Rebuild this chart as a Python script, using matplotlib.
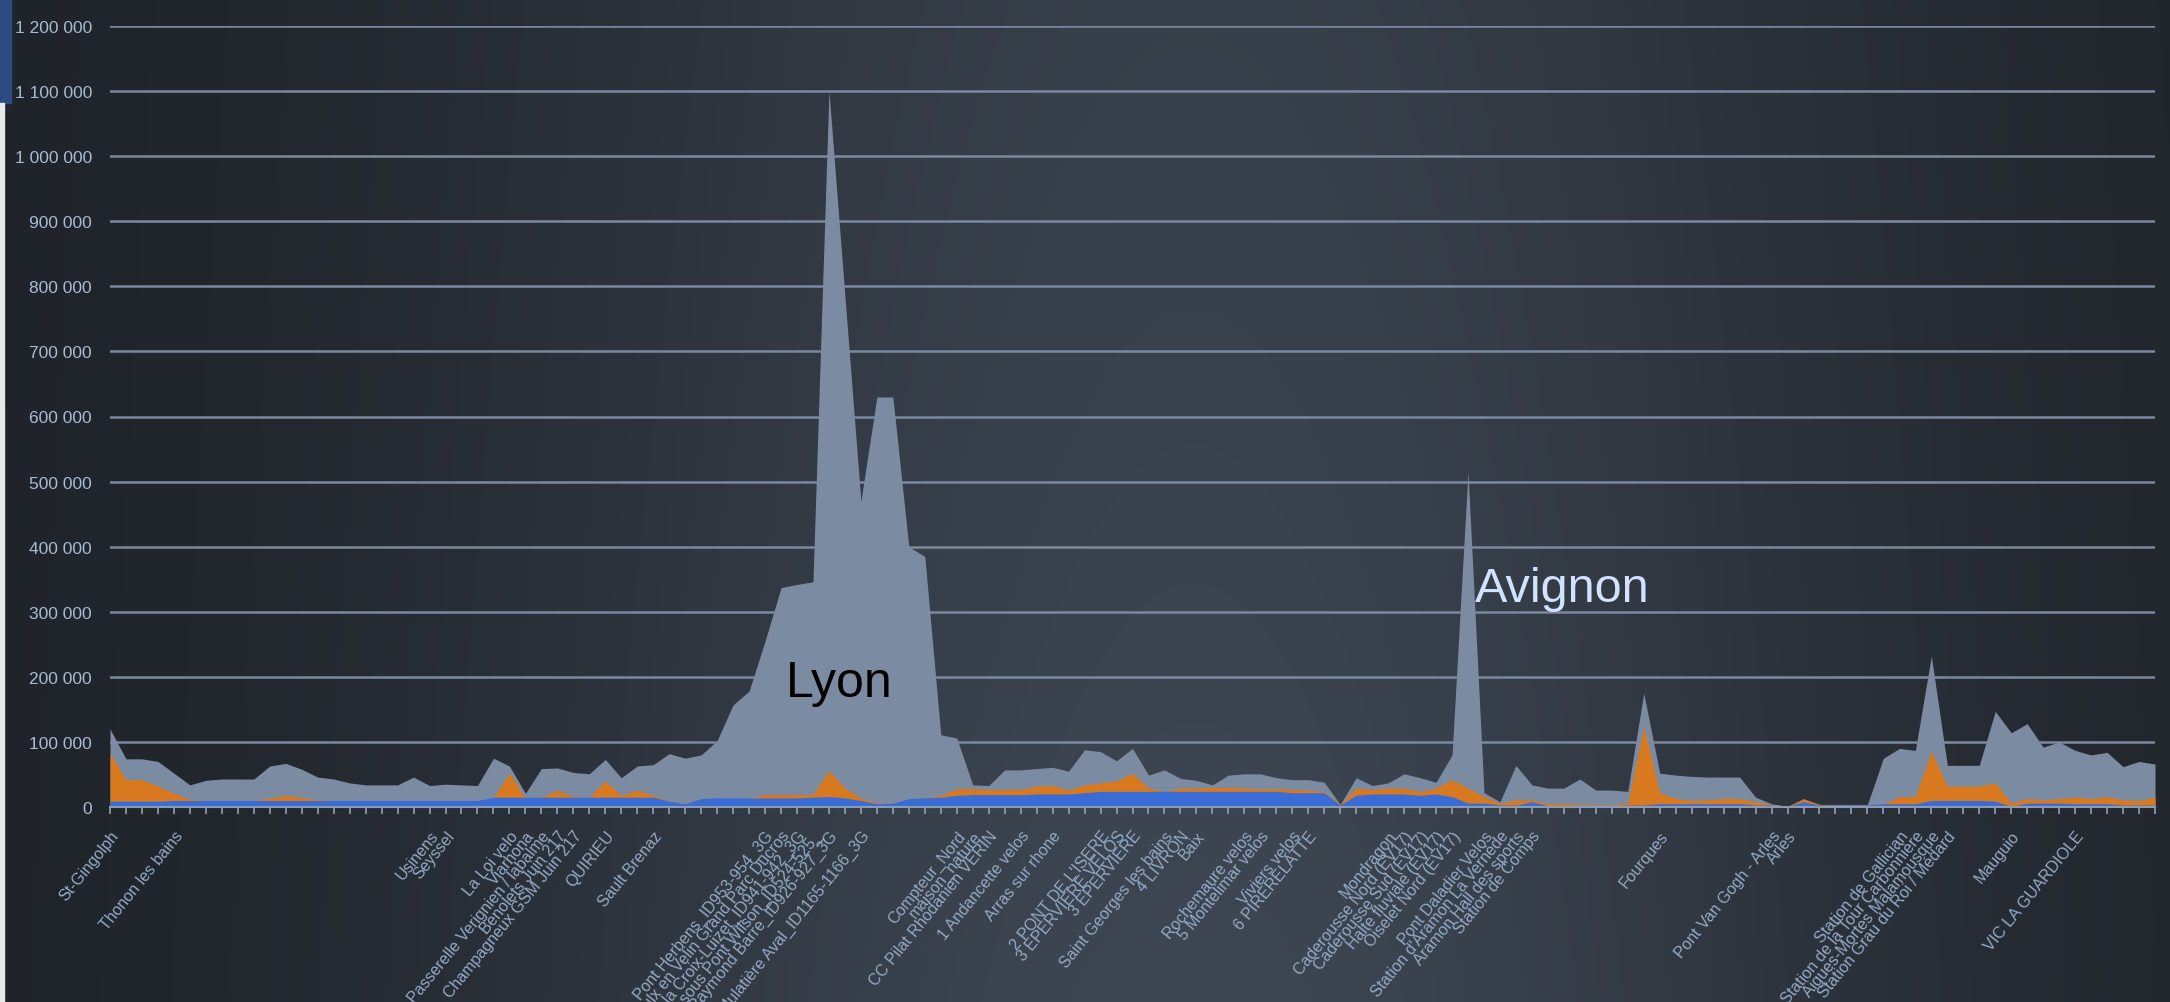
import numpy as np
import matplotlib
matplotlib.use('Agg')
import matplotlib.pyplot as plt
from matplotlib.patches import Rectangle
from matplotlib.ticker import FuncFormatter

plt.rcParams['font.family'] = ['Liberation Sans', 'DejaVu Sans']

####################################################
# Data (values in thousands of passages)
####################################################
total_k = [120, 74, 74, 70, 52, 34, 41, 43, 43, 43,
           63, 67, 58, 46, 43, 37, 34, 34, 34, 46,
           33, 35, 34, 33, 75, 63, 21, 59, 60, 53,
           51, 73, 45, 63, 65, 82, 75, 80, 102, 157,
           178, 255, 337, 342, 346, 1100, 785, 470, 630, 630,
           400, 385, 111, 106, 34, 33, 57, 57, 59, 61,
           55, 88, 85, 71, 90, 49, 57, 44, 41, 34,
           49, 51, 51, 45, 42, 42, 38, 4, 45, 33,
           37, 51, 45, 38, 80, 515, 22, 8, 64, 34,
           29, 29, 43, 26, 26, 24, 175, 52, 49, 47,
           46, 46, 46, 15, 5, 1, 10, 4, 4, 4,
           4, 75, 90, 87, 232, 64, 64, 64, 147, 114,
           128, 92, 100, 87, 80, 84, 62, 70, 66]

orange_k = [83, 42, 42, 32, 21, 12, 10, 10, 10, 10,
            14, 18, 15, 11, 10, 10, 10, 10, 10, 10,
            10, 10, 10, 10, 14, 52, 14, 15, 26, 16,
            15, 40, 18, 26, 18, 9, 5, 12, 13, 13,
            14, 19, 19, 19, 19, 56, 29, 14, 6, 6,
            12, 14, 18, 28, 28, 27, 27, 27, 32, 33,
            26, 34, 37, 40, 52, 29, 24, 29, 29, 30,
            30, 29, 28, 28, 27, 26, 24, 4, 29, 27,
            29, 29, 24, 29, 42, 29, 16, 6, 11, 11,
            5, 5, 4, 3, 3, 6, 124, 22, 13, 10,
            11, 13, 13, 8, 4, 1, 13, 4, 3, 3,
            3, 5, 16, 16, 86, 32, 32, 32, 37, 6,
            13, 11, 13, 15, 13, 16, 11, 10, 15]

blue_k = [9, 9, 9, 9, 10, 10, 10, 10, 10, 10,
          10, 10, 10, 10, 10, 10, 10, 10, 10, 10,
          10, 10, 10, 10, 15, 15, 15, 15, 15, 15,
          15, 15, 15, 15, 15, 9, 5, 13, 14, 14,
          14, 14, 14, 14, 15, 16, 14, 10, 5, 6,
          13, 14, 15, 18, 19, 19, 19, 19, 20, 20,
          20, 22, 24, 24, 24, 24, 24, 24, 24, 24,
          24, 24, 24, 24, 22, 22, 22, 3, 18, 20,
          20, 20, 18, 20, 16, 6, 6, 3, 3, 8,
          2, 2, 2, 2, 2, 3, 3, 5, 5, 5,
          5, 5, 5, 3, 3, 1, 8, 3, 3, 3,
          3, 5, 5, 5, 10, 10, 10, 10, 9, 1,
          6, 6, 6, 5, 5, 5, 3, 3, 3]

label_pos = [0, 4, 20, 21, 25, 26, 27, 28, 29, 31, 34,
             41, 42, 43, 44, 45, 47,
             53, 54, 55, 57, 59, 62, 63, 64, 66, 67, 68, 71, 72, 74, 75,
             80, 81, 82, 83, 84, 86, 87, 88, 89,
             97, 104, 105, 112, 113, 114, 115, 119, 123]
label_text = ['St-Gingolph', 'Thonon les bains', 'Usinens', 'Seyssel',
              'La Loi velo', 'Viarhona', 'Passerelle Verignien / labalme',
              'Benolets Juin 217', 'Champagneux GSM Juin 217', 'QUIRIEU',
              'Sault Brenaz',
              'Pont Herbens_ID953-954_3G', 'Vaulx en Velin Grand Parc Ducros',
              'Pont de la Croix-Luizet_ID941-942_3G',
              'Passerelle sous Pont Wilson_ID524-525_',
              'Pont Raymond Barre_ID926-927_3G',
              'La Mulatière Aval_ID1165-1166_3G',
              'Compteur_Nord', 'maison_nature', 'CC Pilat Rhodanien VERIN',
              '1 Andancette velos', 'Arras sur rhone', "2 PONT DE L'ISERE",
              '3 EPERVIERE VELOS', '3 EPERVIERE', 'Saint Georges les bains',
              '4 LIVRON', 'Baix', 'Rochemaure velos', '5 Montelimar velos',
              'Viviers velos', '6 PIRERELATTE',
              'Mondragon', 'Caderousse Nord (EV17)', 'Caderousse Sud (EV17)',
              'Halte fluviale (EV17)', 'Oiselet Nord (EV17)',
              'Pont Daladier Velos', "Station d'Aramon La Vernède",
              'Aramon Hall des sports', 'Station de Comps',
              'Fourques', 'Pont Van Gogh - Arles', 'Arles',
              'Station de Gallician', 'Station de la Tour Carbonnière',
              'Aigues-Mortes Malamousque', 'Station Grau du Roi / Médard',
              'Mauguio', 'VIC LA GUARDIOLE']

####################################################
# Figure + background
####################################################
W, H = 2170, 1003
fig = plt.figure(figsize=(W / 100, H / 100), dpi=100)

bg = fig.add_axes([0, 0, 1, 1], zorder=-10)
u = np.linspace(0, 1, 434)
v = np.linspace(0, 1, 201)
U, V = np.meshgrid(u, v)
w = np.exp(-((U - 0.55) / 0.33) ** 2) * (0.8 + 0.2 * V)
c0 = np.array([30, 34, 40]) / 255
c1 = np.array([61, 70, 82]) / 255
img = c0 + (c1 - c0) * w[..., None]
bg.imshow(img, aspect='auto', extent=[0, 1, 0, 1], interpolation='bilinear')
bg.set_xlim(0, 1)
bg.set_ylim(0, 1)
bg.axis('off')

# screenshot edge remnants
fig.patches.append(Rectangle((0, 1 - 104 / H), 11 / W, 104 / H,
                             transform=fig.transFigure, color='#2b4a82', zorder=5))
fig.patches.append(Rectangle((0, 0), 4 / W, 1 - 104 / H,
                             transform=fig.transFigure, color='#e6e8ea', zorder=5))

####################################################
# Plot
####################################################
ax = fig.add_axes([110 / W, (H - 808) / H, 2045 / W, 781 / H])
ax.patch.set_alpha(0)

x = np.arange(len(total_k))
total = np.array(total_k) * 1000
orange = np.array(orange_k) * 1000
blue = np.array(blue_k) * 1000

ax.fill_between(x, 0, total, color='#7b8ca2', lw=0, zorder=2)
ax.fill_between(x, 0, orange, color='#d8791f', lw=0, zorder=3)
ax.fill_between(x, 0, blue, color='#3a6cd6', lw=0, zorder=4)

ax.set_xlim(0, len(x) - 1)
ax.set_ylim(0, 1200000)
ax.set_yticks(np.arange(0, 1200001, 100000))
ax.yaxis.set_major_formatter(FuncFormatter(lambda val, p: f'{int(val):,}'.replace(',', ' ')))
ax.yaxis.grid(True, color='#7a899f', lw=1.8)
ax.set_axisbelow(True)

for s in ['top', 'right', 'left']:
    ax.spines[s].set_visible(False)
ax.spines['bottom'].set_color('#8a9bb3')
ax.spines['bottom'].set_linewidth(1.5)
ax.spines['bottom'].set_zorder(5)

ax.tick_params(axis='y', length=0, pad=13, labelcolor='#a9bbd3', labelsize=12.5)

tick_labels = [''] * len(x)
for p, t in zip(label_pos, label_text):
    tick_labels[p] = t
ax.set_xticks(x)
ax.set_xticklabels(tick_labels, rotation=51, ha='right', va='top',
                   rotation_mode='anchor', fontsize=11.5, color='#93abc8')
ax.tick_params(axis='x', length=5, width=1.2, color='#8fa0b8', pad=10)

fig.text(839 / W, 1 - 697 / H, 'Lyon', fontsize=36, color='black',
         ha='center', va='baseline')
fig.text(1562 / W, 1 - 602 / H, 'Avignon', fontsize=35, color='#cfe2ff',
         ha='center', va='baseline')

plt.savefig('out.png', dpi=100)
